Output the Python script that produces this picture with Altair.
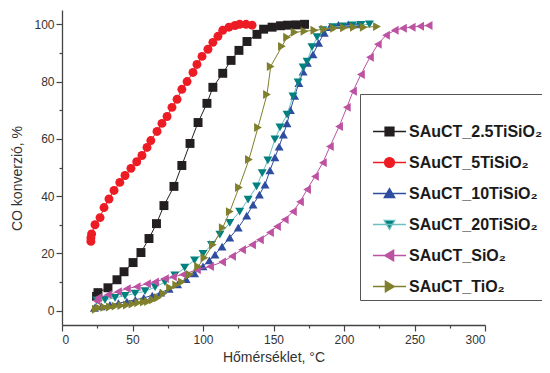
import altair as alt
import pandas as pd

names = ["SAuCT_2.5TiSiO₂", "SAuCT_5TiSiO₂", "SAuCT_10TiSiO₂",
         "SAuCT_20TiSiO₂", "SAuCT_SiO₂", "SAuCT_TiO₂"]
marker_colors = ["#231f20", "#ed1c24", "#2e4da0", "#00807e", "#bd52a2", "#7f7f2c"]
line_colors = ["#231f20", "#ed1c24", "#2e4da0", "#6cbfbf", "#bd52a2", "#7f7f2c"]
shapes = ["square", "circle", "triangle-up", "triangle-down", "triangle-left", "triangle-right"]
legend_paths = [
    "M-1,0H1M-0.27,-0.27H0.27V0.27H-0.27Z",
    "M-1,0H1M-0.3,0A0.3,0.3,0,1,1,0.3,0A0.3,0.3,0,1,1,-0.3,0Z",
    "M-1,0H1M0,-0.3L0.32,0.25L-0.32,0.25Z",
    "M-1,0H1M0,0.3L0.32,-0.25L-0.32,-0.25Z",
    "M-1,0H1M-0.3,0L0.25,-0.32L0.25,0.32Z",
    "M-1,0H1M0.3,0L-0.25,-0.32L-0.25,0.32Z",
]

x_25 = [24.5, 25.5, 32.6, 39, 44, 50.4, 56, 61.7, 67, 72.3, 79.4, 85, 90.8, 96.5,
        102.8, 107, 114, 119.9, 125.5, 131.2, 138.3, 143, 149, 155, 160, 166, 172]
y_25 = [5.0, 6.3, 8, 10.8, 13.6, 16.8, 20.3, 25.2, 30.4, 36.7, 43.4, 50.7, 58.4, 65.7,
        72.4, 78, 82.9, 87.4, 90.9, 94, 96.5, 98.3, 99, 99.5, 99.7, 99.8, 100]

x_5 = [20.5, 20.5, 21, 23.4, 27, 29.8, 33.3, 36.9, 41, 44.7, 48.9, 53, 56.7, 60.3, 63,
       67.4, 70.9, 74.5, 78, 81.6, 85, 88.7, 92.9, 95.7, 99.3, 103.5, 107, 110.6, 114,
       118.4, 122.7, 126, 130.5, 134.8]
y_5 = [24.2, 25.4, 26.8, 30, 32.5, 36, 39, 42, 44.8, 47.2, 49.7, 52, 54.2, 57, 59.4,
       62.6, 65.4, 67.8, 71, 73.8, 77.3, 80, 83.2, 86, 88.8, 91.3, 93.7, 95.8, 97.9,
       99, 99.6, 100, 100, 99.7]

x_10 = [23, 28, 34, 40, 46, 52, 58, 64, 70, 76, 82, 88, 94, 100, 104.5, 108.5, 113.5,
        119, 125, 131, 135.5, 140, 144, 147.5, 151, 154, 157, 159.6, 162, 165, 168, 171,
        174, 178, 182, 186, 190, 196, 203, 210]
y_10 = [1, 1.5, 2, 2.6, 3.2, 3.8, 4.5, 5.3, 6.3, 7.6, 9.2, 11, 13, 15.5, 17.6, 19.6, 22.4,
        25.5, 29, 33.2, 37, 40.5, 44, 49, 53.5, 57.3, 61.5, 65.4, 70, 75, 79.5, 83.5,
        86.5, 89.5, 93.5, 97, 99, 99.8, 100, 100]

x_20 = [24.5, 30.5, 37.6, 44.7, 51.8, 58.9, 66, 73, 80, 87, 94, 100, 106, 112, 119, 126,
        132, 138, 142, 146, 151, 154.6, 159.6, 163.8, 167.4, 171, 173.8, 177.3, 180.9,
        185, 192, 199, 206, 212, 218]
y_20 = [3.6, 3.8, 4.5, 5.2, 6, 6.8, 8.2, 10, 12.3, 15, 17.6, 19.8, 23, 26.6, 30.7, 34.6,
        38.8, 43.4, 48, 52.5, 59.8, 64, 68.5, 74.8, 79.7, 85, 87, 92, 95.5, 98, 99, 99.3,
        99.6, 99.8, 100]

x_si = [24.5, 25.5, 32.6, 39.7, 46, 53, 60.3, 66, 73, 78.7, 85.8, 95.7, 105, 113.5, 120.6,
        127.7, 134.8, 140.4, 147.5, 152.5, 158, 163.8, 168.8, 173.8, 179.4, 185, 190,
        196.5, 202, 206.4, 212, 218.4, 224, 229.8, 236, 241.8, 248, 254, 260]
y_si = [3.5, 4.5, 5.6, 6.6, 7.7, 8.4, 9.4, 10, 11.2, 11.8, 12.6, 14.3, 15.4, 17, 19, 21.3,
        23, 24.8, 27.3, 29.4, 31.8, 34.6, 38, 42.3, 46.9, 51.7, 57.3, 64.3, 71, 76.6,
        82.5, 88.5, 93, 96.2, 97.9, 98.6, 99, 99.3, 99.6]

x_ti = [24, 26, 30, 34, 38, 42, 46, 50, 54, 58, 61, 64.5, 68, 72, 76.6, 81, 85, 90.8,
        96.5, 101, 107, 114, 119, 125.5, 132.6, 139, 145.4, 148, 156, 159.6, 165, 172,
        179, 186, 193, 200, 207, 214, 223.4]
y_ti = [0.5, 1, 1.2, 1.3, 1.6, 1.8, 2, 2.3, 2.8, 3, 3.2, 3.8, 4.5, 6, 8, 9, 10, 12.6,
        15.4, 18.5, 23, 29, 34.6, 43, 52.8, 64, 75.5, 85.3, 92.3, 95.5, 97.2, 97.6, 97.9,
        98.3, 98.6, 98.8, 99, 99, 99.2]

xs_all = [x_25, x_5, x_10, x_20, x_si, x_ti]
ys_all = [y_25, y_5, y_10, y_20, y_si, y_ti]

rows = []
for i, (xv, yv) in enumerate(zip(xs_all, ys_all)):
    for k, (a, b) in enumerate(zip(xv, yv)):
        rows.append({"series": names[i], "x": a, "y": b, "k": k})
df = pd.DataFrame(rows)

FONT = "Liberation Sans"
x_scale = alt.Scale(domain=[0, 300], nice=False, zero=False)
y_scale = alt.Scale(domain=[-5, 105], nice=False, zero=False)

x_axis = alt.Axis(
    values=list(range(0, 301, 25)),
    labelExpr="datum.value % 50 === 0 ? datum.label : ''",
    tickSize={"condition": {"test": "datum.value % 50 === 0", "value": 6}, "value": 3},
    grid=False, domainColor="#444", tickColor="#444", domainWidth=1.3, tickWidth=1.2,
    labelFont=FONT, labelFontSize=12, labelColor="#333", labelPadding=3,
    title="Hőmérséklet, °C", titleFont=FONT, titleFontSize=14, titleFontWeight="normal",
    titleColor="#333", titleY=25,
)
y_axis = alt.Axis(
    values=list(range(0, 101, 10)),
    labelExpr="datum.value % 20 === 0 ? datum.label : ''",
    tickSize={"condition": {"test": "datum.value % 20 === 0", "value": 6}, "value": 3},
    grid=False, domainColor="#444", tickColor="#444", domainWidth=1.3, tickWidth=1.2,
    labelFont=FONT, labelFontSize=12, labelColor="#333", labelPadding=2,
    title="CO konverzió, %", titleFont=FONT, titleFontSize=14, titleFontWeight="normal",
    titleColor="#333", titleX=-38, titleY=168, titleAlign="center", titleBaseline="bottom",
)

base = alt.Chart(df)
X = alt.X("x:Q", scale=x_scale, axis=x_axis)
Y = alt.Y("y:Q", scale=y_scale, axis=y_axis)

layers = []
for i in range(6):
    sub = base.transform_filter(alt.datum.series == names[i])
    layers.append(sub.mark_line(color=line_colors[i], strokeWidth=1).encode(x=X, y=Y, order="k:Q"))
    layers.append(sub.mark_point(shape=shapes[i], filled=True, size=80, opacity=1,
                                 color=marker_colors[i]).encode(x=X, y=Y))

leg = alt.Legend(
    title=" ", orient="none", legendX=298, legendY=84, direction="vertical",
    symbolSize=1089, symbolStrokeWidth=1.3, clipHeight=17, rowPadding=14, padding=5,
    symbolOffset=7, labelOffset=2, labelFont=FONT, labelFontSize=16, labelFontWeight="bold",
    labelColor="#1a1a1a", labelLimit=300, strokeColor="#555", fillColor="white",
    titleFontSize=14, titlePadding=10,
)
legend_layer = base.transform_filter("datum.x < -1000").mark_point(
    filled=True, opacity=1, strokeWidth=1.3
).encode(
    x=X, y=Y,
    fill=alt.Fill("series:N", scale=alt.Scale(domain=names, range=marker_colors), legend=leg),
    stroke=alt.Stroke("series:N", scale=alt.Scale(domain=names, range=line_colors), legend=leg),
    shape=alt.Shape("series:N", scale=alt.Scale(domain=names, range=legend_paths), legend=leg),
)
layers.append(legend_layer)

chart = alt.layer(*layers).properties(
    width=423, height=315,
    autosize=alt.AutoSizeParams(type="none"),
    padding={"left": 54, "top": 2, "right": 57, "bottom": 40},
).configure_view(stroke=None)

chart.save("out.html", embed_options={"renderer": "svg", "actions": False})
